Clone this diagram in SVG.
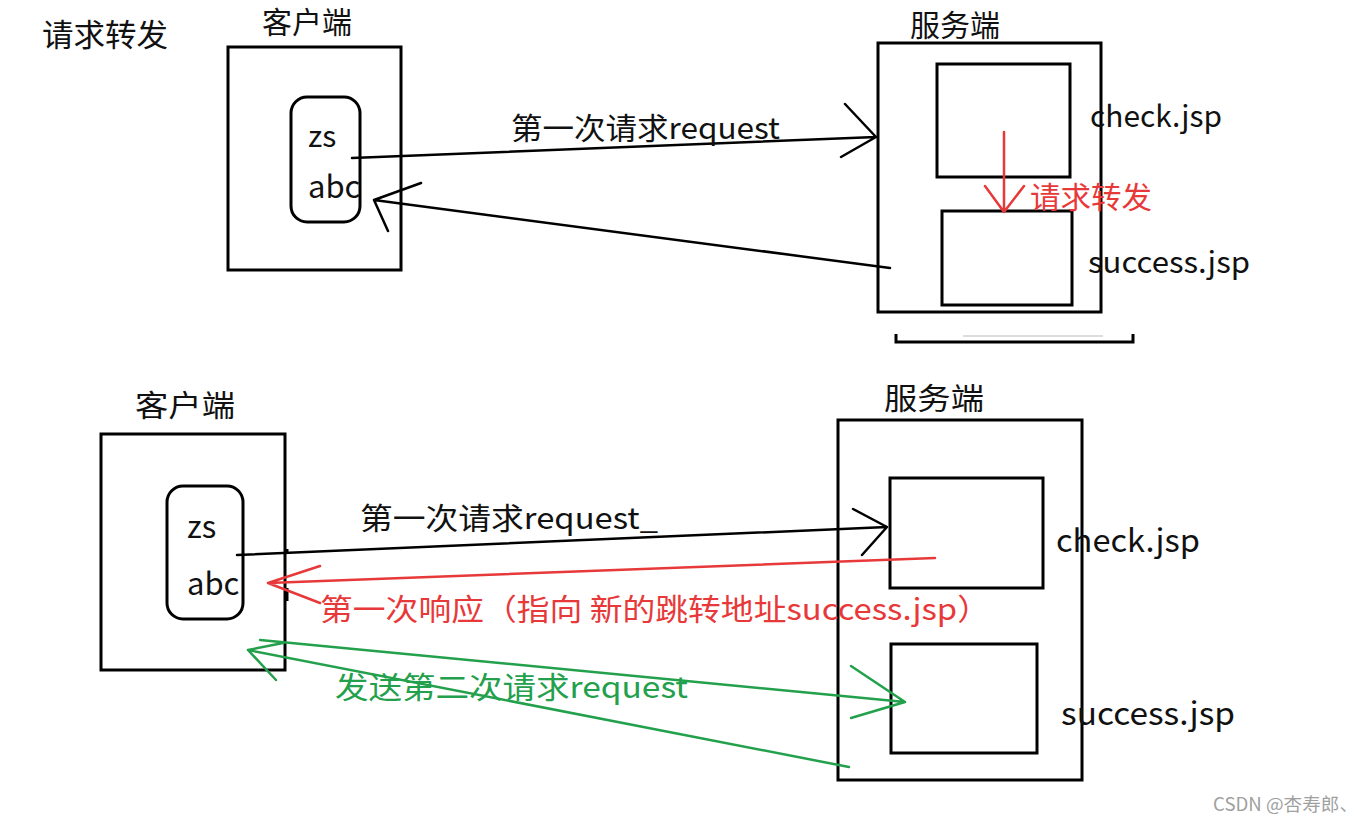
<svg xmlns="http://www.w3.org/2000/svg" width="1369" height="825" viewBox="0 0 1369 825">
<style>
text{font-family:"Noto Sans CJK SC","Noto Sans",sans-serif;font-size:30px;fill:#111}
.box{fill:none;stroke:#000;stroke-width:3}
.blk{fill:none;stroke:#000;stroke-width:2.5;stroke-linecap:round;stroke-linejoin:round}
.red{fill:none;stroke:#e8393a;stroke-width:2.5;stroke-linecap:round;stroke-linejoin:round}
.grn{fill:none;stroke:#22a04b;stroke-width:2.5;stroke-linecap:round;stroke-linejoin:round}
.tr{fill:#e8393a}
.tg{fill:#22a04b}
</style>
<rect width="1369" height="825" fill="#fff"/>
<text x="42" y="46" style="font-size:31px" textLength="126" lengthAdjust="spacingAndGlyphs">请求转发</text>

<g id="client-top">
<text x="262" y="33">客户端</text>
<rect class="box" x="228" y="47" width="173" height="223"/>
<rect class="box" x="291" y="97" width="69" height="125" rx="16"/>
<text x="308" y="147">zs</text>
<text x="308" y="198" style="font-size:31px">abc</text>
</g>

<g id="server-top">
<text x="910" y="36">服务端</text>
<rect class="box" x="878" y="43" width="223" height="269"/>
<g id="check-top">
<rect class="box" x="937" y="64" width="133" height="113"/>
<text x="1090" y="127" textLength="132" lengthAdjust="spacingAndGlyphs">check.jsp</text>
</g>
<g id="success-top">
<rect class="box" x="942" y="211" width="130" height="94"/>
<text x="1088" y="273" textLength="162" lengthAdjust="spacingAndGlyphs">success.jsp</text>
</g>
<path d="M896 334 V342 H1133 V334" fill="none" stroke="#000" stroke-width="3"/>
<line x1="963" y1="336" x2="1103" y2="336" stroke="#bbb" stroke-width="1"/>
</g>

<g id="client-bottom">
<text x="135" y="416" textLength="100" lengthAdjust="spacingAndGlyphs">客户端</text>
<rect class="box" x="101" y="434" width="184" height="236"/>
<rect class="box" x="167" y="486" width="76" height="133" rx="16"/>
<text x="187" y="538" style="font-size:31px">zs</text>
<text x="187" y="595" style="font-size:31px">abc</text>
<path d="M287 549 V553 M287 588 V601" stroke="#000" stroke-width="3"/>
</g>

<g id="server-bottom">
<text x="884" y="409" textLength="100" lengthAdjust="spacingAndGlyphs">服务端</text>
<rect class="box" x="838" y="420" width="244" height="360"/>
<g id="check-bottom">
<rect class="box" x="890" y="478" width="153" height="110"/>
<text x="1056" y="552" style="font-size:32px" textLength="144" lengthAdjust="spacingAndGlyphs">check.jsp</text>
</g>
<g id="success-bottom">
<rect class="box" x="891" y="644" width="146" height="109"/>
<text x="1061" y="725" style="font-size:32px" textLength="174" lengthAdjust="spacingAndGlyphs">success.jsp</text>
</g>
</g>

<g id="connectors">
<path class="blk" d="M352 158 L876 137 M845 104 L876 137 L841 157"/>
<text x="511" y="139" textLength="269" lengthAdjust="spacingAndGlyphs">第一次请求request</text>
<path class="blk" d="M890 268 L374 200 M421 183 L374 200 L388 231"/>
<path class="red" d="M1004 132 V212 M985 186 L1004 212 L1024 186"/>
<text class="tr" x="1030" y="208" textLength="122" lengthAdjust="spacingAndGlyphs">请求转发</text>

<path class="blk" d="M237 555 L887 527 M853 509 L887 527 L862 555"/>
<text x="360" y="529" textLength="298" lengthAdjust="spacingAndGlyphs">第一次请求request_</text>
<path class="red" d="M935 558 L268 583 M320 566 L268 583 L320 603"/>
<text class="tr" x="320" y="620" textLength="670" lengthAdjust="spacingAndGlyphs">第一次响应（指向 新的跳转地址success.jsp）</text>
<path class="grn" d="M260 640 L905 702 M851 666 L905 702 L851 718"/>
<path class="grn" d="M849 767 L248 650 M283 643 L248 650 L276 680"/>
<text class="tg" x="335" y="698" textLength="353" lengthAdjust="spacingAndGlyphs">发送第二次请求request</text>
</g>

<text x="1213" y="811" style="font-size:18px;fill:#a0a0a0" textLength="145" lengthAdjust="spacingAndGlyphs">CSDN @杏寿郎、</text>
</svg>
